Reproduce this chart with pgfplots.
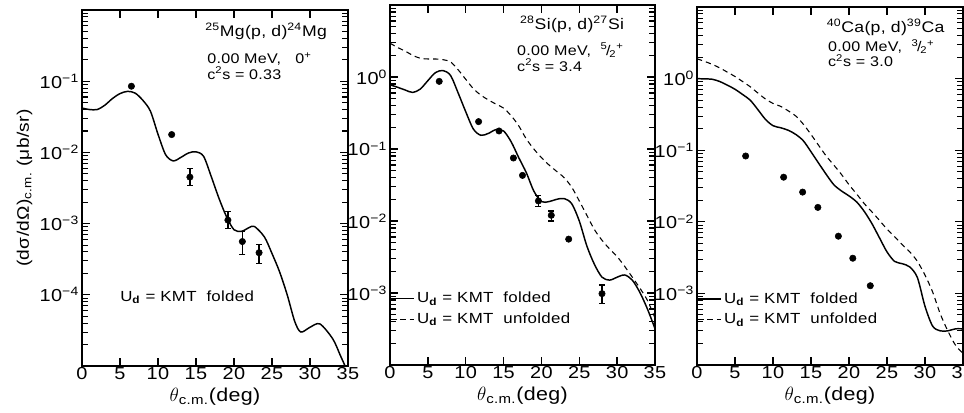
\documentclass[border=0pt]{standalone}
\usepackage{pgfplots}
\pgfplotsset{compat=1.18}
\usepackage{fontspec}
\setmainfont{Liberation Sans}[FakeStretch=1.15, LetterSpace=2]

\pgfplotsset{
  myPanel/.style={
    scale only axis, anchor=south west, axis on top,
    xmin=0, xmax=35, xtick={0,5,...,35},
    axis line style={line width=1.2pt},
    tick style={black, solid, line width=1pt},
    minor tick style={black, solid, line width=0.8pt},
    major tick length=6pt, minor tick length=4.5pt,
    tick align=inside, tick pos=both,
    ticklabel style={font=\fontsize{13}{15}\selectfont},
    xticklabel style={inner sep=1pt, yshift=0pt},
    yticklabel style={inner sep=2pt},
    xlabel={$\theta$\textsubscript{c.m.}(deg)},
    xlabel style={at={(axis description cs:0.5,0)}, anchor=north, yshift=-16pt, inner sep=0pt, font=\fontsize{14}{16}\selectfont},
    legend style={at={(axis description cs:0,0.156)}, anchor=west, draw=none, fill=none, inner sep=0pt, row sep=2pt, font=\fontsize{11}{13}\selectfont},
    legend cell align=left,
  },
  myCurve/.style={black, line width=1.1pt, smooth, no markers},
  myDash/.style={black, line width=0.8pt, dash pattern=on 4pt off 3pt, smooth, no markers},
  myPts/.style={black, only marks, mark=*, mark size=2.4pt},
  myErr/.style={black, only marks, mark=*, mark size=2.4pt,
    error bars/y dir=both, error bars/y explicit,
    error bars/error mark=-,
    error bars/error bar style={line width=0.9pt},
    error bars/error mark options={rotate=90, line width=0.9pt, mark size=2.2pt}},
}

\begin{document}
\begin{tikzpicture}

% ---------------- Panel 1: 25Mg(p,d)24Mg ----------------
\begin{semilogyaxis}[myPanel, at={(61.5pt,34.5pt)}, width=199.5pt, height=267pt,
  /pgf/number format/assume math mode=true,
  ymin=1e-5, ymax=1e0,
  ytick={1e-4,1e-3,1e-2,1e-1},
  yticklabels={10\textsuperscript{−4},10\textsuperscript{−3},10\textsuperscript{−2},10\textsuperscript{−1}},
  minor ytick={2e-5,3e-5,4e-5,5e-5,6e-5,7e-5,8e-5,9e-5,
               2e-4,3e-4,4e-4,5e-4,6e-4,7e-4,8e-4,9e-4,
               2e-3,3e-3,4e-3,5e-3,6e-3,7e-3,8e-3,9e-3,
               2e-2,3e-2,4e-2,5e-2,6e-2,7e-2,8e-2,9e-2,
               2e-1,3e-1,4e-1,5e-1,6e-1,7e-1,8e-1,9e-1},
  ylabel={(dσ/dΩ)\textsubscript{c.m.} (μb/sr)},
  ylabel style={font=\fontsize{12.5}{15}\selectfont},
]
\addplot[myCurve] coordinates {
(0,0.042) (1,0.040) (2,0.040) (3,0.046) (4,0.057) (5,0.067) (6,0.072) (7,0.068)
(8,0.054) (9,0.038) (10,0.018) (11,0.0093) (12,0.0076) (13,0.0085) (14,0.0098)
(15,0.0102) (16,0.0088) (17,0.0046) (18,0.0023) (19,0.00126) (20,0.00082)
(21,0.00078) (22,0.00088) (22.7,0.00091) (24,0.00065) (25,0.00038) (26,0.00021)
(27,0.0001) (28,0.000042) (28.8,0.000030) (30,0.000035) (31.3,0.000039)
(33,0.000024) (34,0.000014) (34.6,0.00001) (35,0.000007)
};
\addplot[myPts] coordinates {(6.5,0.085) (11.8,0.0178)};
\addplot[myErr] coordinates {
(14.2,0.0045) += (0,0.0015) -= (0,0.00103)
(19.2,0.00112) += (0,0.00036) -= (0,0.00027)
(21.1,0.00056) += (0,0.00022) -= (0,0.00019)
(23.3,0.00039) += (0,0.00012) -= (0,0.000115)
};
\node[anchor=center] at (rel axis cs:0.692,0.941) {\fontsize{11.5}{14}\selectfont\textsuperscript{25}Mg(p, d)\textsuperscript{24}Mg};
\node[anchor=west, inner sep=0pt] at (rel axis cs:0.47,0.862) {\fontsize{10.5}{12}\selectfont 0.00 MeV,\ \ \ 0\textsuperscript{+}};
\node[anchor=west, inner sep=0pt] at (rel axis cs:0.47,0.823) {\fontsize{10.5}{12}\selectfont c\textsuperscript{2}s = 0.33};
\node[anchor=west, inner sep=0pt] at (rel axis cs:0.143,0.194) {\fontsize{11}{13}\selectfont U\textsubscript{\textbf{d}} = KMT\ \ folded};
\end{semilogyaxis}

% ---------------- Panel 2: 28Si(p,d)27Si ----------------
\begin{semilogyaxis}[myPanel, at={(292.5pt,35.25pt)}, width=198.75pt, height=270pt,
  /pgf/number format/assume math mode=true,
  ymin=1e-4, ymax=1e1,
  ytick={1e-3,1e-2,1e-1,1e0},
  yticklabels={10\textsuperscript{−3},10\textsuperscript{−2},10\textsuperscript{−1},10\textsuperscript{0}},
  minor ytick={2e-4,3e-4,4e-4,5e-4,6e-4,7e-4,8e-4,9e-4,
               2e-3,3e-3,4e-3,5e-3,6e-3,7e-3,8e-3,9e-3,
               2e-2,3e-2,4e-2,5e-2,6e-2,7e-2,8e-2,9e-2,
               2e-1,3e-1,4e-1,5e-1,6e-1,7e-1,8e-1,9e-1,
               2,3,4,5,6,7,8,9},
]
\addplot[myCurve] coordinates {
(0,0.78) (1,0.72) (2,0.66) (3,0.61) (4,0.68) (5,0.89) (6,1.15) (7,1.23) (8,1.05)
(9,0.60) (10,0.33) (11,0.19) (12,0.155) (13,0.165) (14,0.186) (15,0.178)
(16,0.126) (17,0.076) (18,0.047) (19,0.026) (20,0.0186) (21,0.0186) (22,0.020)
(23,0.0205) (24,0.0174) (25,0.010) (26,0.0045) (27,0.0025) (28,0.00166)
(29,0.00151) (30,0.00166) (31,0.00178) (32,0.00151) (33,0.00102) (34,0.0006)
(35,0.00032)
};
\addlegendentry{U\textsubscript{\textbf{d}} = KMT\ \ folded}
\addplot[myDash] coordinates {
(0,2.95) (1,2.57) (2,2.29) (3,2.0) (4,1.82) (5,1.78) (6,1.78) (7,1.74) (8,1.62)
(9,1.26) (10,0.93) (11,0.69) (12,0.56) (13,0.48) (14,0.42) (15,0.37) (16,0.29)
(17,0.21) (18,0.138) (19,0.10) (20,0.076) (21,0.060) (22,0.049) (23,0.040)
(24,0.0295) (25,0.019) (26,0.012) (27,0.0076) (28,0.0054) (29,0.0041)
(30,0.0032) (31,0.00234) (32,0.00166) (33,0.00117) (34,0.00079) (35,0.00045)
};
\addlegendentry{U\textsubscript{\textbf{d}} = KMT\ \ unfolded}
\addplot[myPts, forget plot] coordinates {(6.5,0.87) (11.7,0.24) (14.4,0.178) (16.3,0.075) (17.5,0.043) (23.6,0.0056)};
\addplot[myErr, forget plot] coordinates {
(19.6,0.019) += (0,0.0038) -= (0,0.0032)
(21.3,0.012) += (0,0.0018) -= (0,0.002)
(28.0,0.00098) += (0,0.00031) -= (0,0.00027)
};
\node[anchor=center] at (rel axis cs:0.687,0.947) {\fontsize{11.5}{14}\selectfont\textsuperscript{28}Si(p, d)\textsuperscript{27}Si};
\node[anchor=west, inner sep=0pt] at (rel axis cs:0.479,0.874) {\fontsize{10.5}{12}\selectfont 0.00 MeV,\ \ \textsuperscript{5}\kern-1pt/\kern-1pt\textsubscript{2}\textsuperscript{+}};
\node[anchor=west, inner sep=0pt] at (rel axis cs:0.479,0.833) {\fontsize{10.5}{12}\selectfont c\textsuperscript{2}s = 3.4};
\end{semilogyaxis}

% ---------------- Panel 3: 40Ca(p,d)39Ca ----------------
\begin{semilogyaxis}[myPanel, at={(522.75pt,35.25pt)}, width=199.5pt, height=268.5pt,
  /pgf/number format/assume math mode=true,
  ymin=1e-4, ymax=1e1,
  ytick={1e-3,1e-2,1e-1,1e0},
  yticklabels={10\textsuperscript{−3},10\textsuperscript{−2},10\textsuperscript{−1},10\textsuperscript{0}},
  minor ytick={2e-4,3e-4,4e-4,5e-4,6e-4,7e-4,8e-4,9e-4,
               2e-3,3e-3,4e-3,5e-3,6e-3,7e-3,8e-3,9e-3,
               2e-2,3e-2,4e-2,5e-2,6e-2,7e-2,8e-2,9e-2,
               2e-1,3e-1,4e-1,5e-1,6e-1,7e-1,8e-1,9e-1,
               2,3,4,5,6,7,8,9},
]
\addplot[myCurve] coordinates {
(0,1.0) (1,0.99) (2,0.98) (3,0.91) (4,0.81) (5,0.71) (6,0.60) (7,0.50) (8,0.37)
(9,0.27) (10,0.22) (11,0.206) (12,0.19) (13,0.166) (14,0.135) (15,0.095)
(16,0.066) (17,0.046) (18,0.033) (19,0.027) (20,0.023) (21,0.019) (22,0.014)
(23,0.0095) (24,0.006) (25,0.0038) (26,0.0028) (27,0.0026) (28,0.00234)
(29,0.00166) (30,0.00066) (31,0.00035) (32,0.0003) (33,0.0003) (34,0.00032)
(35,0.00032)
};
\addlegendentry{U\textsubscript{\textbf{d}} = KMT\ \ folded}
\addplot[myDash] coordinates {
(0,1.89) (1,1.74) (2,1.58) (3,1.41) (4,1.23) (5,1.07) (6,0.91) (7,0.77) (8,0.63)
(9,0.52) (10,0.45) (11,0.41) (12,0.355) (13,0.30) (14,0.23) (15,0.166)
(16,0.117) (17,0.083) (18,0.062) (19,0.046) (20,0.033) (21,0.0245) (22,0.018)
(23,0.0138) (24,0.0105) (25,0.0079) (26,0.0062) (27,0.0048) (28,0.0038)
(29,0.0028) (30,0.0018) (31,0.00105) (32,0.00052) (33,0.0003) (34,0.00019)
(35,0.000145)
};
\addlegendentry{U\textsubscript{\textbf{d}} = KMT\ \ unfolded}
\addplot[myPts, forget plot] coordinates {
(6.4,0.083) (11.4,0.042) (13.9,0.026) (15.9,0.0159) (18.6,0.0063) (20.5,0.0031) (22.8,0.00128)
};
\node[anchor=center] at (rel axis cs:0.709,0.944) {\fontsize{11.5}{14}\selectfont\textsuperscript{40}Ca(p, d)\textsuperscript{39}Ca};
\node[anchor=west, inner sep=0pt] at (rel axis cs:0.492,0.890) {\fontsize{10.5}{12}\selectfont 0.00 MeV,\ \ \textsuperscript{3}\kern-1pt/\kern-1pt\textsubscript{2}\textsuperscript{+}};
\node[anchor=west, inner sep=0pt] at (rel axis cs:0.492,0.850) {\fontsize{10.5}{12}\selectfont c\textsuperscript{2}s = 3.0};
\end{semilogyaxis}

\pgfresetboundingbox
\path[use as bounding box] (0pt,0pt) rectangle (723pt,309pt);
\end{tikzpicture}
\end{document}
